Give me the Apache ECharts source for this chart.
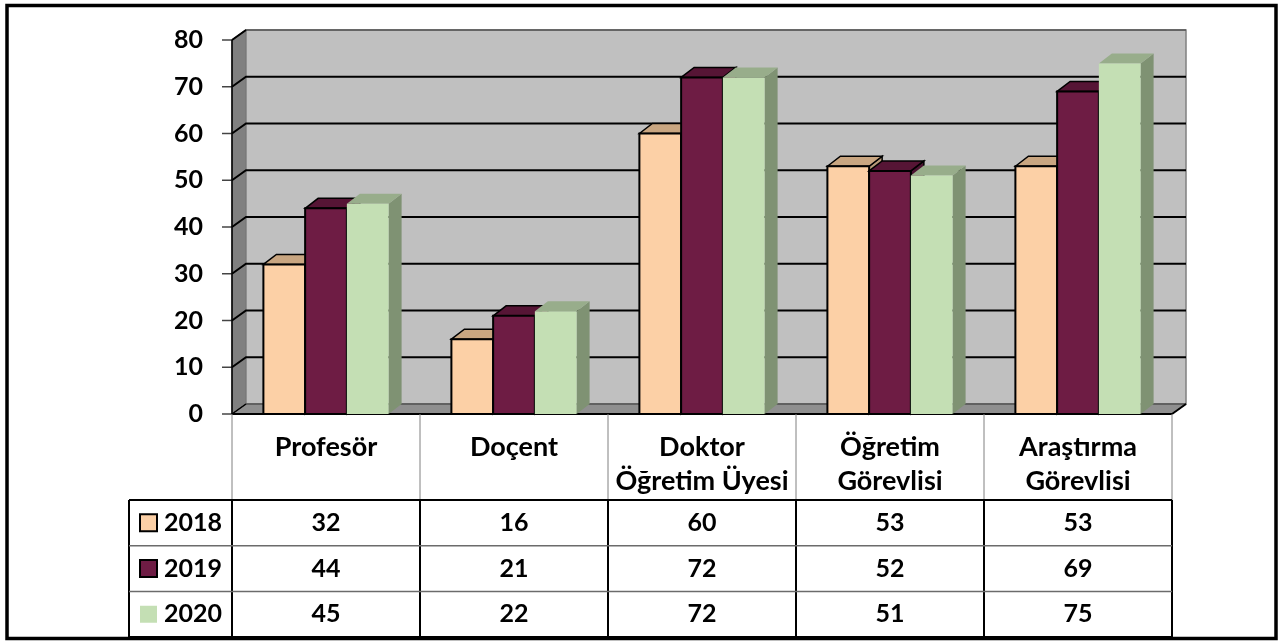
<!DOCTYPE html>
<html>
<head>
<meta charset="utf-8">
<script src="https://cdn.jsdelivr.net/npm/echarts@6/dist/echarts.min.js"></script>
<style>
  html, body { margin: 0; padding: 0; background: #fff; }
  #chart { width: 1280px; height: 642px; }
</style>
</head>
<body>
<div id="chart"></div>
<script>
// data
const categories = ['Profesör', 'Doçent', 'Doktor\nÖğretim Üyesi', 'Öğretim\nGörevlisi', 'Araştırma\nGörevlisi'];
const years = ['2018', '2019', '2020'];
const values2018 = [32, 16, 60, 53, 53];
const values2019 = [44, 21, 72, 52, 69];
const values2020 = [45, 22, 72, 51, 75];
const yTicks = [0, 10, 20, 30, 40, 50, 60, 70, 80];

const seriesValues = [values2018, values2019, values2020];
const frontColors = ['#fcd0a6', '#6e1c44', '#c4dfb4'];
const topColors = ['#c9a681', '#561535', '#98ad8b'];
const sideColors = ['#b89a78', '#4a1230', '#7f9273'];
const outlines = ['#000', '#000', null];

const FONT = 'Lato, "Noto Sans", sans-serif';
const DX = 14, DY = -10;     // wall depth
const BDX = 13, BDY = -10;   // bar depth

// back wall, side wall, floor, gridlines
function wallItem(params, api) {
    const cs = params.coordSys;
    const L = cs.x, R = cs.x + cs.width, T = cs.y, B = cs.y + cs.height;
    const kids = [];
    kids.push({ type: 'polygon', shape: { points: [[L, T], [L + DX, T + DY], [L + DX, B + DY], [L, B]] },
        style: { fill: '#808080', stroke: '#555', lineWidth: 1 } });
    kids.push({ type: 'rect', shape: { x: L + DX, y: T + DY, width: cs.width, height: cs.height },
        style: { fill: '#c0c0c0', stroke: '#808080', lineWidth: 1.5 } });
    kids.push({ type: 'polygon', shape: { points: [[L, B], [L + DX, B + DY], [R + DX, B + DY], [R, B]] },
        style: { fill: '#8f8f8f', stroke: '#333', lineWidth: 1 } });
    yTicks.forEach(function (t) {
        const y = api.coord([0, t])[1];
        kids.push({ type: 'polyline', shape: { points: [[L - 10, y], [L, y]] },
            style: { stroke: '#444', lineWidth: 1.5, fill: null } });
        if (t > 0) {
            kids.push({ type: 'polyline', shape: { points: [[L, y], [L + DX, y + DY], [R + DX, y + DY]] },
                style: { stroke: t === 80 ? '#555' : '#000', lineWidth: t === 80 ? 1.5 : 2, fill: null } });
        }
    });
    kids.push({ type: 'line', shape: { x1: L, y1: T, x2: L, y2: B }, style: { stroke: '#000', lineWidth: 1.5 } });
    kids.push({ type: 'polyline', shape: { points: [[L, T], [L + DX, T + DY]] }, style: { stroke: '#000', lineWidth: 2, fill: null } });
    kids.push({ type: 'line', shape: { x1: L, y1: B, x2: R, y2: B }, style: { stroke: '#000', lineWidth: 2 } });
    kids.push({ type: 'line', shape: { x1: L, y1: B, x2: L + DX, y2: B + DY }, style: { stroke: '#000', lineWidth: 1.5 } });
    kids.push({ type: 'line', shape: { x1: R, y1: B, x2: R + DX, y2: B + DY }, style: { stroke: '#000', lineWidth: 2 } });
    return { type: 'group', children: kids };
}

function barItem(k) {
    return function (params, api) {
        const cat = api.value(0), v = api.value(1);
        const base = api.coord([cat, 0]);
        const top = api.coord([cat, v]);
        const band = api.size([1, 0])[0];
        const w = band * 0.222;
        const x0 = base[0] - 1.5 * w + k * w, x1 = x0 + w;
        const y0 = base[1], y1 = top[1];
        const st = outlines[k];
        return { type: 'group', children: [
            { type: 'polygon', shape: { points: [[x1, y0], [x1 + BDX, y0 + BDY], [x1 + BDX, y1 + BDY], [x1, y1]] },
              style: { fill: sideColors[k], stroke: st, lineWidth: 1.5 } },
            { type: 'polygon', shape: { points: [[x0, y1], [x0 + BDX, y1 + BDY], [x1 + BDX, y1 + BDY], [x1, y1]] },
              style: { fill: topColors[k], stroke: st, lineWidth: 1.5 } },
            { type: 'rect', shape: { x: x0, y: y1, width: w, height: y0 - y1 },
              style: { fill: frontColors[k], stroke: st, lineWidth: 2 } }
        ] };
    };
}

// data table under the plot
function tableItem(params, api) {
    const cs = params.coordSys;
    const L = cs.x, R = cs.x + cs.width, B = cs.y + cs.height;
    const band = api.size([1, 0])[0];
    const headH = 86, rowH = 45.7, keyL = L - 103;
    const rowTop = B + headH, rowBot = rowTop + rowH * years.length;
    const kids = [];
    for (let i = 0; i <= categories.length; i++) {
        const x = L + i * band;
        kids.push({ type: 'line', shape: { x1: x, y1: B, x2: x, y2: rowTop }, style: { stroke: '#808080', lineWidth: 1 } });
        kids.push({ type: 'line', shape: { x1: x, y1: rowTop, x2: x, y2: rowBot }, style: { stroke: '#000', lineWidth: 2 } });
    }
    kids.push({ type: 'line', shape: { x1: keyL, y1: rowTop, x2: keyL, y2: rowBot }, style: { stroke: '#000', lineWidth: 2 } });
    for (let r = 0; r <= years.length; r++) {
        const y = rowTop + r * rowH;
        const edge = r === 0 || r === years.length;
        kids.push({ type: 'line', shape: { x1: keyL, y1: y, x2: R, y2: y },
            style: { stroke: edge ? '#000' : '#6b6b6b', lineWidth: edge ? 2 : 1.5 } });
    }
    years.forEach(function (yr, k) {
        const cy = rowTop + rowH * k + rowH / 2;
        kids.push({ type: 'rect', shape: { x: keyL + 11, y: cy - 8.5, width: 17, height: 17 },
            style: { fill: frontColors[k], stroke: outlines[k], lineWidth: 2 } });
        kids.push({ type: 'text', style: { text: yr, x: keyL + 35, y: cy, align: 'left', verticalAlign: 'middle',
            fontSize: 25, fontWeight: 'bold', fontFamily: FONT, fill: '#000' } });
        seriesValues[k].forEach(function (v, i) {
            const cx = api.coord([i, 0])[0];
            kids.push({ type: 'text', style: { text: String(v), x: cx, y: cy, align: 'center', verticalAlign: 'middle',
                fontSize: 25, fontWeight: 'bold', fontFamily: FONT, fill: '#000' } });
        });
    });
    return { type: 'group', children: kids };
}

const chart = echarts.init(document.getElementById('chart'));
chart.setOption({
    animation: false,
    backgroundColor: '#fff',
    grid: { left: 232, top: 40, width: 940, height: 374 },
    xAxis: {
        type: 'category',
        data: categories,
        axisLine: { show: false },
        axisTick: { show: false },
        axisLabel: { margin: 16, fontSize: 27, fontWeight: 'bold', fontFamily: FONT, color: '#000', lineHeight: 34, interval: 0 }
    },
    yAxis: {
        type: 'value',
        min: 0, max: 80, interval: 10,
        axisLine: { show: false },
        axisTick: { show: false },
        splitLine: { show: false },
        axisLabel: { margin: 29, fontSize: 25, fontWeight: 'bold', fontFamily: FONT, color: '#000' }
    },
    graphic: [{
        type: 'rect', shape: { x: 7, y: 5.5, width: 1269, height: 633 },
        style: { fill: null, stroke: '#000', lineWidth: 3.5 }, silent: true
    }],
    series: [
        { type: 'custom', name: 'walls', z: 1, silent: true, renderItem: wallItem, data: [[0, 0]] },
        { type: 'custom', name: years[0], z: 2, renderItem: barItem(0), data: values2018.map(function (v, i) { return [i, v]; }) },
        { type: 'custom', name: years[1], z: 3, renderItem: barItem(1), data: values2019.map(function (v, i) { return [i, v]; }) },
        { type: 'custom', name: years[2], z: 4, renderItem: barItem(2), data: values2020.map(function (v, i) { return [i, v]; }) },
        { type: 'custom', name: 'table', z: 5, silent: true, renderItem: tableItem, data: [[0, 0]] }
    ]
});
</script>
</body>
</html>
